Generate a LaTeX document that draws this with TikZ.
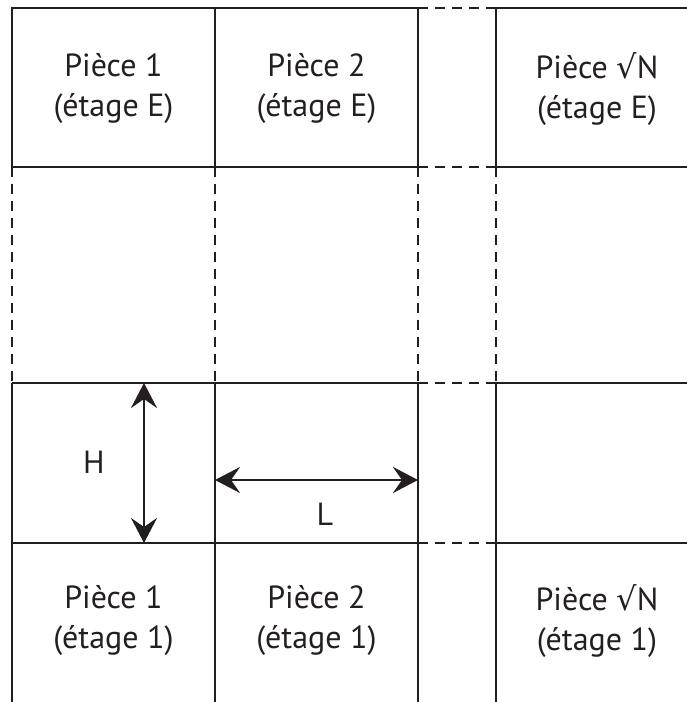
\documentclass[tikz,border=0pt]{standalone}
\usepackage{fontspec}
\setmainfont{PT Sans}
\newfontfamily\symf{DejaVu Sans}
\usetikzlibrary{arrows.meta}
\definecolor{ink}{HTML}{231F20}
\begin{document}
\begin{tikzpicture}[x=1pt,y=1pt,
  wall/.style={draw=ink, line width=2.8pt},
  gapline/.style={draw=ink, line width=2.8pt, dash pattern=on 10pt off 7pt},
  room/.style={text=ink, align=center, inner sep=0pt, font=\fontsize{32}{40}\selectfont},
  dimline/.style={draw=ink, line width=2.8pt, {Stealth[length=25pt,width=26pt,inset=9pt]}-{Stealth[length=25pt,width=26pt,inset=9pt]}},
  lbl/.style={text=ink, inner sep=0pt, font=\fontsize{32}{40}\selectfont}]
\useasboundingbox (0,0) rectangle (687,702);
% horizontal lines
\foreach \y in {694,535,319,159}{
  \draw[wall] (12,\y) -- (418,\y);
  \draw[gapline] (418,\y) -- (496,\y);
  \draw[wall] (496,\y) -- (687,\y);
}
% vertical lines
\foreach \x in {12,215,418,496}{
  \draw[wall] (\x,695.4) -- (\x,535);
  \draw[gapline] (\x,535) -- (\x,319);
  \draw[wall] (\x,319) -- (\x,0);
}
% room labels
\node[room] (p1E) at (113.5,613) {Pièce 1\\(étage E)};
\node[room] (p2E) at (316.5,613) {Pièce 2\\(étage E)};
\node[room] (pNE) at (597,613) {Pièce {\symf √}N\\(étage E)};
\node[room] (p11) at (113.5,81) {Pièce 1\\(étage 1)};
\node[room] (p21) at (316.5,81) {Pièce 2\\(étage 1)};
\node[room] (pN1) at (597,81) {Pièce {\symf √}N\\(étage 1)};
% dimensions
\coordinate (hT) at (144,319);
\coordinate (hB) at (144,159);
\draw[dimline] (hT) -- (hB);
\node[lbl] (hLab) at (94,240) {H};
\coordinate (lL) at (215,222);
\coordinate (lR) at (418,222);
\draw[dimline] (lL) -- (lR);
\node[lbl] (lLab) at (325,188) {L};
\end{tikzpicture}
\end{document}
